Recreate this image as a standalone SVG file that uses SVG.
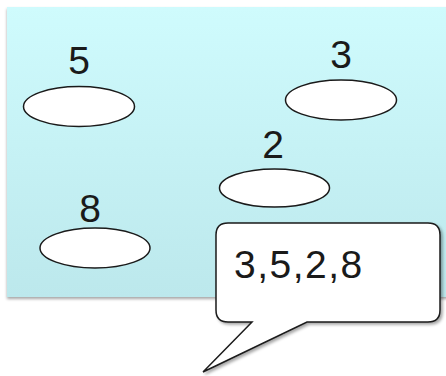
<svg xmlns="http://www.w3.org/2000/svg" width="446" height="376" viewBox="0 0 446 376">
<defs>
<linearGradient id="bg" x1="0" y1="0" x2="0" y2="1">
<stop offset="0" stop-color="#cffbfd"/>
<stop offset="1" stop-color="#bce8ec"/>
</linearGradient>
<filter id="sh" x="-10%" y="-10%" width="120%" height="120%">
<feDropShadow dx="0" dy="2" stdDeviation="1.5" flood-color="#000" flood-opacity="0.35"/>
</filter>
<filter id="sh2" x="-10%" y="-10%" width="120%" height="120%">
<feDropShadow dx="2" dy="2" stdDeviation="1.5" flood-color="#000" flood-opacity="0.35"/>
</filter>
</defs>
<style>
.node ellipse{fill:#fff;stroke:#1a1a1a;stroke-width:1.5}
.lbl{font-family:"Liberation Sans",Arial,sans-serif;font-size:39px;fill:#1a1a1a;text-anchor:middle}
.co{fill:#fff;stroke:#1a1a1a;stroke-width:1.5;stroke-linejoin:miter}
</style>
<rect x="7" y="7" width="450" height="290" fill="url(#bg)" filter="url(#sh)"/>
<g id="node-5" class="node">
<ellipse cx="79" cy="106.5" rx="55.5" ry="20"/>
<text class="lbl" x="79" y="74">5</text>
</g>
<g id="node-3" class="node">
<ellipse cx="341" cy="100" rx="55.5" ry="20"/>
<text class="lbl" x="341" y="68">3</text>
</g>
<g id="node-2" class="node">
<ellipse cx="274.5" cy="188" rx="55" ry="19"/>
<text class="lbl" x="273" y="158">2</text>
</g>
<g id="node-8" class="node">
<ellipse cx="95" cy="248" rx="55" ry="20"/>
<text class="lbl" x="90" y="222">8</text>
</g>
<g id="connectors"/>
<g id="callout">
<path class="co" filter="url(#sh2)" d="M228,223 H428 Q440,223 440,235 V310 Q440,322 428,322 H307 L203,372 L252,322 H228 Q216,322 216,310 V235 Q216,223 228,223 Z"/>
<text x="234" y="278" font-family="Liberation Sans, Arial, sans-serif" font-size="39" letter-spacing="1.5" fill="#1a1a1a">3,5,2,8</text>
</g>
</svg>
